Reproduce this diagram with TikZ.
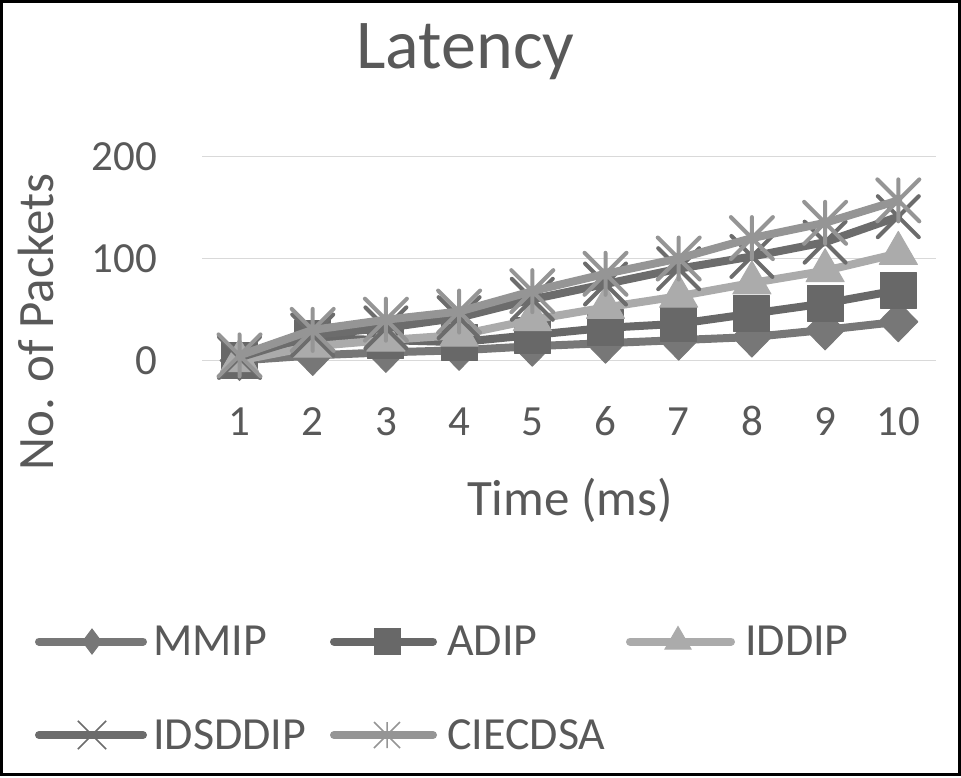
\documentclass[tikz,border=0pt]{standalone}
\usepackage{fontspec}
\setmainfont{Carlito}
\usetikzlibrary{plotmarks}

\definecolor{txtgray}{HTML}{595959}
\definecolor{gridgray}{HTML}{D9D9D9}
\definecolor{mmipcol}{HTML}{777777}
\definecolor{adipcol}{HTML}{686868}
\definecolor{iddipcol}{HTML}{ABABAB}
\definecolor{idsddipcol}{HTML}{6C6C6C}
\definecolor{ciecdsacol}{HTML}{959595}

% star marker: vertical bar plus a cross
\pgfdeclareplotmark{xstar}{%
  \pgfpathmoveto{\pgfqpoint{0pt}{\pgfplotmarksize}}%
  \pgfpathlineto{\pgfqpoint{0pt}{-\pgfplotmarksize}}%
  \pgfpathmoveto{\pgfqpoint{-\pgfplotmarksize}{\pgfplotmarksize}}%
  \pgfpathlineto{\pgfqpoint{\pgfplotmarksize}{-\pgfplotmarksize}}%
  \pgfpathmoveto{\pgfqpoint{-\pgfplotmarksize}{-\pgfplotmarksize}}%
  \pgfpathlineto{\pgfqpoint{\pgfplotmarksize}{\pgfplotmarksize}}%
  \pgfusepathqstroke}

\tikzset{
  series/.style={line width=8pt, line join=round, line cap=round},
  ticklabel/.style={text=txtgray, inner sep=0pt, font=\fontsize{43}{46}\selectfont},
  axislabel/.style={text=txtgray, inner sep=0pt, font=\fontsize{51}{54}\selectfont},
  legendtext/.style={text=txtgray, anchor=base west, inner sep=0pt, font=\fontsize{46}{50}\selectfont},
  mmipmark/.style={mark=diamond*, mark size=20pt, mark options={xscale=1.3, fill=mmipcol, draw=mmipcol, line width=1pt}},
  adipmark/.style={mark=square*, mark size=18pt, mark options={fill=adipcol, draw=adipcol, line width=1pt}},
  iddipmark/.style={mark=triangle*, mark size=22pt, mark options={fill=iddipcol, draw=iddipcol, line width=1pt}},
  idsddipmark/.style={mark=x, mark size=29pt, mark options={draw=idsddipcol, line width=4pt}},
  ciecdsamark/.style={mark=xstar, mark size=21pt, mark options={draw=ciecdsacol, line width=4pt}},
  legthin/.style={every mark/.append style={line width=1.5pt}}
}

\begin{document}
\begin{tikzpicture}[x=1pt,y=-1pt]
  \useasboundingbox (0,0) rectangle (961,777);

  % Outer frame
  \draw[line width=3pt] (1.5,1.5) rectangle (959.5,774);

  % Title
  \node[text=txtgray, inner sep=0pt, anchor=base, font=\fontsize{70}{74}\selectfont] (title) at (465.5,68) {Latency};

  % Grid lines and y tick labels
  \foreach \v/\py in {0/360.5,100/258.5,200/156.5} {
    \draw[gridgray, line width=1.5pt] (202,\py) -- (936,\py);
    \node[ticklabel, anchor=base east] (ytick\v) at (157,{\py+13.5}) {\v};
  }

  % x tick labels
  \foreach \i in {1,...,10}
    \node[ticklabel, anchor=base] (xtick\i) at ({239.5+(\i-1)*73.2},435) {\i};

  % Axis titles
  \node[axislabel, rotate=90, anchor=base] (ylabel) at (53,322) {No. of Packets};
  \node[axislabel, anchor=base] (xlabel) at (570,515) {Time (ms)};

  % Series
  \begin{scope}[shift={(166.3,360.5)}, x=73.2pt, y=1.02pt]
    \draw[series, mmipcol] plot[mmipmark] coordinates
      {(1,0) (2,5) (3,8) (4,10) (5,14) (6,17) (7,20) (8,23) (9,30) (10,38)};
    \draw[series, adipcol] plot[adipmark] coordinates
      {(1,0) (2,22) (3,20) (4,18) (5,25) (6,32) (7,36) (8,46) (9,56) (10,69)};
    \draw[series, iddipcol] plot[iddipmark] coordinates
      {(1,0) (2,14) (3,20) (4,25) (5,40) (6,52) (7,63) (8,76) (9,88) (10,105)};
    \draw[series, idsddipcol] plot[idsddipmark] coordinates
      {(1,3) (2,25) (3,32) (4,42) (5,60) (6,75) (7,90) (8,102) (9,116) (10,141)};
    \draw[series, ciecdsacol] plot[ciecdsamark] coordinates
      {(1,5) (2,30) (3,40) (4,48) (5,68) (6,85) (7,100) (8,120) (9,135) (10,157)};
  \end{scope}

  % Legend, first row
  \draw[series, mmipcol] (39,641.5) -- (143,641.5);
  \path plot[mmipmark, mark size=12.5pt, every mark/.append style={xscale=1/1.3}] coordinates {(92,641.5)};
  \node[legendtext] (legmmip) at (153,655) {MMIP};
  \draw[series, adipcol] (334,641.5) -- (433,641.5);
  \path plot[adipmark, mark size=13pt] coordinates {(387,641.5)};
  \node[legendtext] (legadip) at (447,655) {ADIP};
  \draw[series, iddipcol] (630,641.5) -- (731,641.5);
  \path plot[iddipmark, mark size=15pt] coordinates {(678,641.5)};
  \node[legendtext] (legiddip) at (745,655) {IDDIP};

  % Legend, second row
  \draw[series, idsddipcol] (39,735) -- (143,735);
  \path plot[idsddipmark, mark size=20pt, legthin] coordinates {(92,735)};
  \node[legendtext] (legidsddip) at (153,749) {IDSDDIP};
  \draw[series, ciecdsacol] (334,735) -- (433,735);
  \path plot[ciecdsamark, mark size=13pt, legthin] coordinates {(387,735)};
  \node[legendtext] (legciecdsa) at (447,749) {CIECDSA};
\end{tikzpicture}
\end{document}
